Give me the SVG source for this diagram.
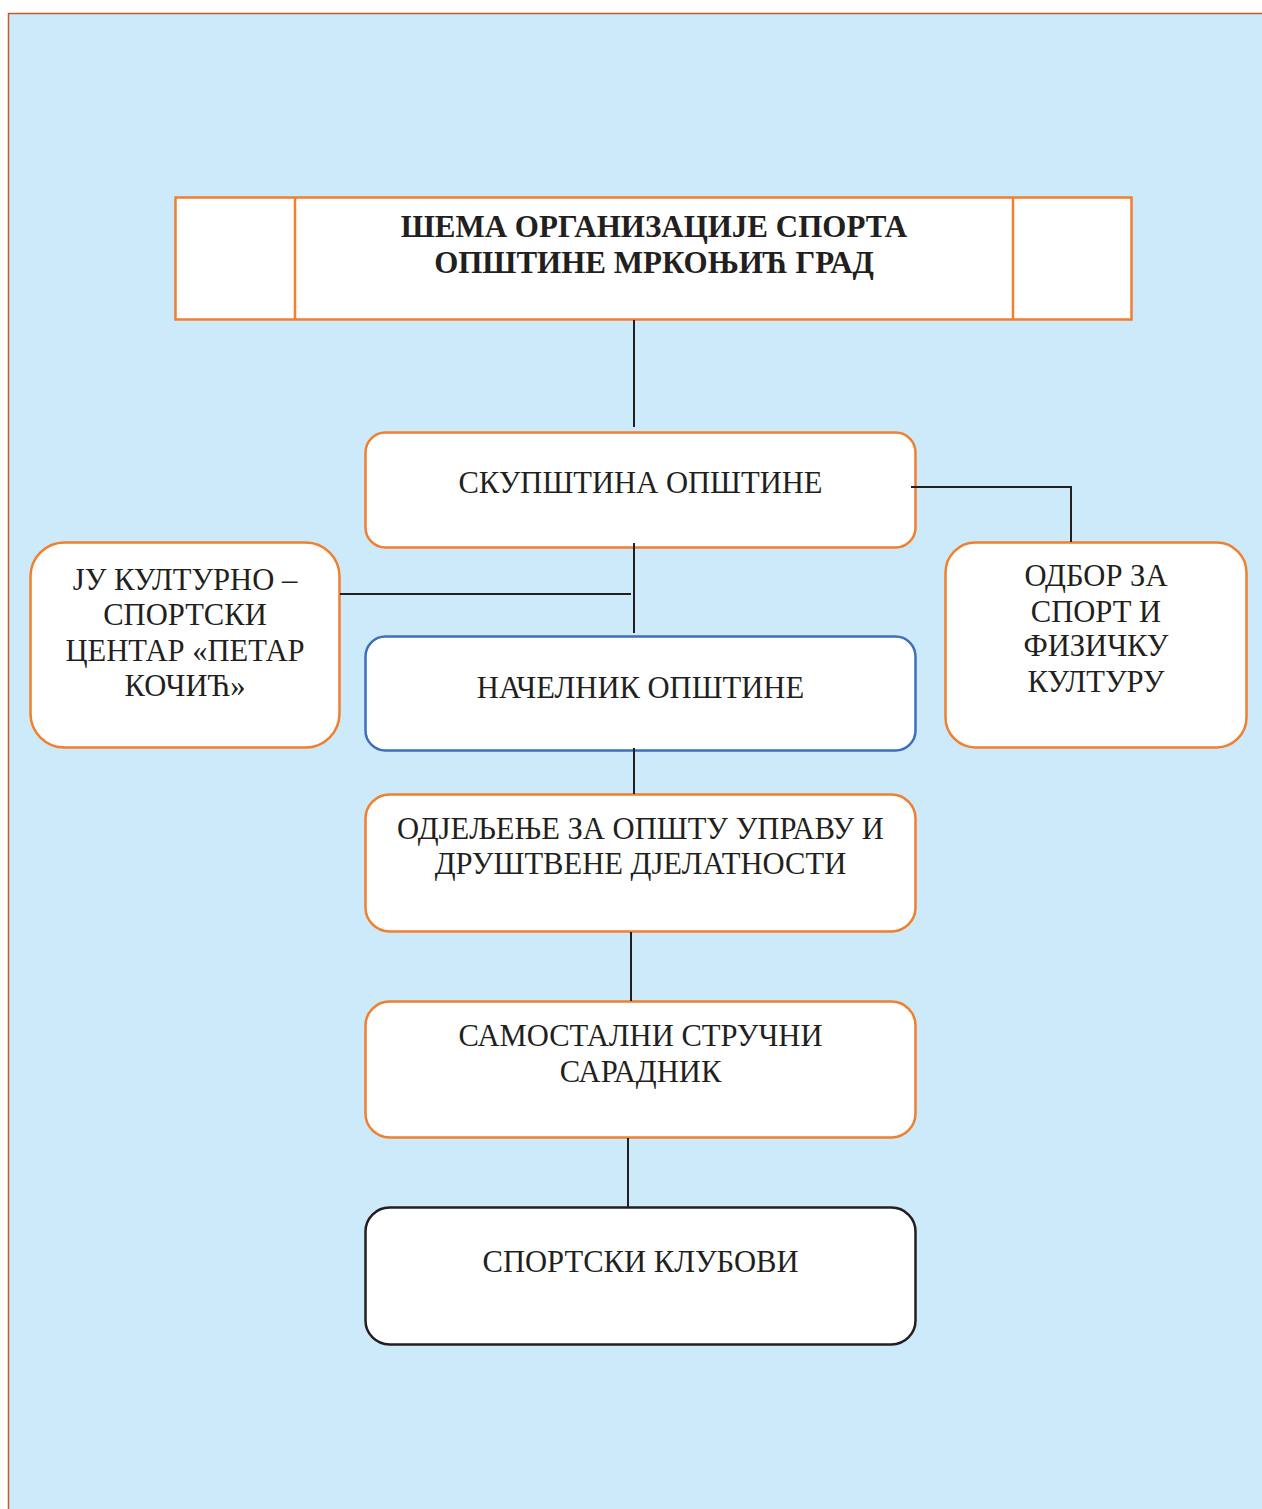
<svg xmlns="http://www.w3.org/2000/svg" width="1262" height="1509" viewBox="0 0 1262 1509">
<style>
.bg{fill:#cdeafb;stroke:#c65a2a;stroke-width:1.5}
.box{fill:#ffffff;stroke-width:2.5}
.or{stroke:#f07f2e}
.bl{stroke:#3d6fbc}
.bk{stroke:#231f20}
.t{font-family:"Liberation Serif","Times New Roman",serif;font-size:30.6px;fill:#231f20;text-anchor:middle}
.b{font-weight:bold;font-size:31px}
.c{stroke:#231f20;stroke-width:2;fill:none}
</style>
<rect class="bg" x="8.5" y="13.5" width="1300" height="1600"/>
<g id="title">
<rect class="box or" x="175.5" y="197.5" width="956" height="122"/>
<line class="or" stroke-width="2.5" x1="295" y1="197.5" x2="295" y2="319.5"/>
<line class="or" stroke-width="2.5" x1="1013" y1="197.5" x2="1013" y2="319.5"/>
<text class="t b" x="654" y="237">ШЕМА ОРГАНИЗАЦИЈЕ СПОРТА</text>
<text class="t b" x="654" y="273">ОПШТИНЕ МРКОЊИЋ ГРАД</text>
</g>
<g id="skupstina">
<rect class="box or" x="365.5" y="432.5" width="550" height="115" rx="20"/>
<text class="t" x="640.5" y="493">СКУПШТИНА ОПШТИНЕ</text>
</g>
<g id="ju">
<rect class="box or" x="30.5" y="542.5" width="309" height="205" rx="34"/>
<text class="t" x="185" y="590">ЈУ КУЛТУРНО –</text>
<text class="t" x="185" y="625">СПОРТСКИ</text>
<text class="t" x="185" y="661">ЦЕНТАР «ПЕТАР</text>
<text class="t" x="185" y="696">КОЧИЋ»</text>
</g>
<g id="odbor">
<rect class="box or" x="945.5" y="542.5" width="301" height="205" rx="30"/>
<text class="t" x="1096" y="586">ОДБОР ЗА</text>
<text class="t" x="1096" y="622">СПОРТ И</text>
<text class="t" x="1096" y="656">ФИЗИЧКУ</text>
<text class="t" x="1096" y="692">КУЛТУРУ</text>
</g>
<g id="nacelnik">
<rect class="box bl" x="365.5" y="636.5" width="550" height="114" rx="20"/>
<text class="t" x="640.5" y="698">НАЧЕЛНИК ОПШТИНЕ</text>
</g>
<g id="odjeljenje">
<rect class="box or" x="365.5" y="794.5" width="550" height="137" rx="24"/>
<text class="t" x="640.5" y="839">ОДЈЕЉЕЊЕ ЗА ОПШТУ УПРАВУ И</text>
<text class="t" x="640.5" y="874">ДРУШТВЕНЕ ДЈЕЛАТНОСТИ</text>
</g>
<g id="samostalni">
<rect class="box or" x="365.5" y="1001.5" width="550" height="136" rx="24"/>
<text class="t" x="640.5" y="1046">САМОСТАЛНИ СТРУЧНИ</text>
<text class="t" x="640.5" y="1082">САРАДНИК</text>
</g>
<g id="klubovi">
<rect class="box bk" x="365.5" y="1207.5" width="550" height="137" rx="24"/>
<text class="t" x="640.5" y="1272">СПОРТСКИ КЛУБОВИ</text>
</g>
<g id="connectors">
<line class="c" x1="634" y1="320" x2="634" y2="427"/>
<line class="c" x1="634" y1="543" x2="634" y2="633"/>
<line class="c" x1="340" y1="594" x2="631" y2="594"/>
<polyline class="c" points="911,487 1071,487 1071,542"/>
<line class="c" x1="634" y1="748" x2="634" y2="794"/>
<line class="c" x1="631" y1="932" x2="631" y2="1001"/>
<line class="c" x1="628" y1="1138" x2="628" y2="1207"/>
</g>
</svg>
